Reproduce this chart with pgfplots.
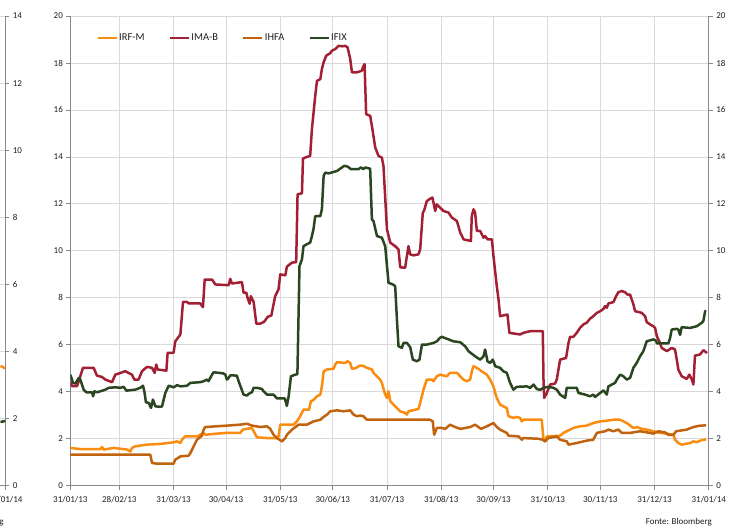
\documentclass[border=0pt]{standalone}
\usepackage{fontspec}
\setmainfont{Carlito}
\usepackage{pgfplots}
\pgfplotsset{compat=1.18}
\definecolor{irfm}{RGB}{250,140,15}
\definecolor{imab}{RGB}{163,32,52}
\definecolor{ihfa}{RGB}{192,98,14}
\definecolor{ifix}{RGB}{42,70,32}
\definecolor{gridgray}{RGB}{217,217,217}
\definecolor{axisgray}{RGB}{137,137,137}
\definecolor{txt}{RGB}{30,30,30}
\pgfplotsset{
  commonstyle/.style={
    scale only axis, height=470pt, ymin=0,
    axis line style={draw=axisgray, line width=0.8pt},
    tick style={draw=axisgray, line width=0.8pt},
    tick align=outside, major tick length=4pt,
    major grid style={draw=gridgray, line width=0.8pt},
    /pgf/number format/assume math mode=true,
    tick label style={font=\fontsize{9}{10}\selectfont, text=txt},
    xticklabel style={yshift=-3pt},
    every axis plot/.append style={line width=2.5pt, line join=round, mark=none},
  }
}
\begin{document}
\begin{tikzpicture}
\path (0pt,0pt) rectangle (748pt,531pt);

% partial chart cut at the left edge (only its last few days are visible)
\begin{axis}[commonstyle, at={(0pt,45pt)}, anchor=south west, width=5pt,
  xmin=362, xmax=365, ymax=14,
  axis x line*=bottom, axis y line*=right, grid=major,
  ytick={0,2,...,14}, xtick={365}, xticklabels={31/01/14},
  xticklabel style={overlay}]
\addplot[irfm] coordinates {(362,3.56) (363,3.55) (364,3.52) (365,3.5)};
\addplot[ifix] coordinates {(362,1.9) (363,1.91) (364,1.92) (365,1.93)};
\end{axis}
\node[overlay, anchor=east, font=\fontsize{9}{10}\selectfont, text=txt, inner sep=0pt] at (3.5pt,9pt) {Fonte: Bloomberg};

% main chart
\begin{axis}[commonstyle, at={(70pt,45pt)}, anchor=south west, width=638.75pt,
  xmin=0, xmax=365, ymax=20,
  axis x line*=bottom, axis y line*=left, grid=major,
  ytick={0,2,...,20},
  xtick={0,28,59,89,120,150,181,212,242,273,303,334,365},
  xticklabels={31/01/13,28/02/13,31/03/13,30/04/13,31/05/13,30/06/13,31/07/13,31/08/13,30/09/13,31/10/13,30/11/13,31/12/13,31/01/14},
  legend columns=4,
  legend image code/.code={\draw[#1] (0pt,0pt) -- (19pt,0pt);},
  legend style={at={(rel axis cs:0.0407,0.953)}, anchor=west, draw=none, fill=none,
    inner sep=0pt, font=\fontsize{10.5}{12}\selectfont, text=txt,
    nodes={inner xsep=1.2pt, inner ysep=1pt},
    /tikz/every even column/.append style={column sep=23pt}},
]
\addplot[irfm] coordinates {
(0,1.61) (5.7,1.56) (17.1,1.56) (18.1,1.65) (19,1.54) (24.7,1.61) (32.4,1.54) (34.3,1.46) (35.2,1.61) (37.1,1.68) (43.8,1.75) (51.4,1.78) (59,1.85) (61,1.89) (62.9,1.82) (63.8,1.96) (65.7,2.1) (72.4,2.1) (74.3,2.17) (76.2,2.25) (77.1,2.17) (83.8,2.22) (89.5,2.25) (97.1,2.25) (98.7,2.39) (103.8,2.46) (104.8,2.32) (106.7,2.06) (112.4,2.03) (118.1,2.03) (119,2.1) (120,2.6) (127.6,2.6) (129.5,2.74) (131.4,2.96) (133.3,3.24) (136.5,3.24) (137.5,3.6) (139,3.65) (141,3.81) (142.9,3.88) (143.8,4.23) (144.8,4.87) (146.7,4.95) (150.5,4.98) (151.4,5.16) (152.4,5.26) (157.1,5.23) (158.5,5.3) (160,5.23) (161,4.98) (162.9,5.0) (165.7,5.12) (167.6,5.1) (169.5,5.02) (172.4,4.95) (173.3,4.81) (175.3,4.66) (177.1,4.52) (178.1,4.38) (180,3.88) (181,3.74) (181.9,4.02) (182.9,3.6) (184.8,3.45) (186.7,3.31) (188.6,3.17) (191.4,3.1) (192.4,3.03) (193.3,3.17) (199,3.27) (200,3.53) (201.9,4.09) (203.8,4.52) (206.7,4.52) (207.6,4.45) (209.5,4.66) (211.4,4.73) (215.2,4.66) (217.1,4.81) (221,4.81) (222.9,4.66) (224.8,4.52) (226.7,4.45) (228.6,4.52) (229.5,4.87) (230.5,5.09) (233.3,4.98) (235.2,4.87) (238.1,4.73) (240,4.52) (241.9,4.23) (242.9,3.95) (243.8,3.74) (245.7,3.45) (249.5,3.31) (250.5,2.96) (253.3,2.89) (255.2,2.93) (257.1,2.89) (258.1,2.74) (259,2.81) (269.5,2.81) (270.5,1.96) (271.4,1.89) (272.4,2.1) (280,2.13) (281.9,2.25) (283.8,2.32) (287.6,2.46) (291.4,2.53) (295.2,2.56) (299,2.67) (302.9,2.74) (306.7,2.77) (310.5,2.81) (314.3,2.81) (316.2,2.74) (318.1,2.67) (320,2.56) (321.9,2.46) (323.8,2.5) (326.7,2.42) (329.5,2.39) (333.3,2.32) (337.1,2.25) (341,2.22) (344.8,2.17) (345.7,1.96) (347.6,1.82) (349.5,1.75) (352.4,1.79) (354.3,1.82) (356.2,1.89) (358.1,1.85) (360,1.92) (363.5,1.98)
};
\addlegendentry{IRF-M}
\addplot[imab] coordinates {
(0,4.4) (1,4.24) (3.8,4.24) (4.8,4.45) (7.2,5.02) (13.3,5.02) (15.2,4.69) (18.1,4.63) (20,4.52) (23.8,4.41) (25.7,4.73) (28.6,4.8) (31.4,4.88) (33.3,4.8) (35.2,4.73) (36.6,4.52) (39,4.52) (41,4.88) (43.8,5.06) (46.7,5.02) (48.2,4.8) (49.1,5.16) (49.9,4.95) (54.9,4.9) (55.6,5.66) (59,5.66) (60,6.15) (62.9,6.44) (64.4,7.83) (66.7,7.83) (67.6,7.76) (74.3,7.76) (75.8,7.6) (76.8,8.78) (81,8.78) (82.9,8.57) (90.5,8.54) (91.4,8.81) (92.4,8.61) (98.1,8.67) (99,8.22) (100.6,8.22) (101.3,8.0) (102.5,7.75) (103.2,8.07) (104.8,7.82) (106.3,6.9) (108.6,6.9) (110.9,6.99) (112.8,7.19) (114.9,7.25) (117.1,8.07) (119,8.36) (120,9.0) (122.9,8.96) (123.8,9.33) (126.7,9.5) (129.1,9.52) (129.9,12.41) (132.4,12.45) (133,13.93) (135.2,14.0) (137.1,14.04) (138.1,15.18) (140,16.6) (141,17.24) (142.9,17.31) (143.8,17.74) (144.8,18.03) (146.3,18.31) (148.6,18.42) (149.5,18.52) (151.4,18.59) (153.3,18.73) (155.3,18.71) (157.1,18.73) (158.5,18.66) (160,18.17) (161,17.6) (163.8,17.6) (166.7,17.67) (167.2,17.81) (168.2,17.95) (169.1,15.82) (171.4,15.75) (172.4,15.32) (174.3,14.4) (176.2,14.04) (178.1,13.97) (179,13.62) (181,10.92) (182.9,10.35) (185.7,10.2) (187.6,10.06) (188.6,9.3) (191.4,9.28) (192.4,9.78) (193.3,10.2) (194.3,9.85) (196.2,9.81) (199,9.85) (200,10.06) (201.5,11.63) (202.2,11.7) (203.8,12.12) (205.7,12.22) (207,12.27) (207.6,12.06) (208.6,11.7) (209.5,11.98) (211.4,11.84) (213.3,11.7) (216.2,11.63) (218.1,11.42) (221,11.27) (222.9,10.78) (224.8,10.49) (229,10.42) (229.5,11.48) (230.5,11.77) (231.4,11.63) (232.4,10.85) (234.3,10.85) (236.2,10.56) (237.1,10.63) (238.5,10.49) (241,10.49) (241.9,9.78) (243.8,8.5) (244.8,7.93) (245.7,7.22) (249.9,7.29) (251,6.51) (257.1,6.44) (259,6.51) (262.9,6.58) (270.1,6.58) (270.5,4.52) (270.9,3.74) (272.4,3.95) (274.3,4.31) (277.1,4.35) (278.1,4.52) (280,5.37) (283.4,5.44) (284.8,6.08) (285.7,6.34) (287.6,6.34) (289.5,6.51) (291.4,6.72) (293.3,6.87) (295.2,6.94) (297.1,7.11) (299,7.22) (301,7.36) (302.9,7.43) (304.8,7.53) (305.7,7.65) (306.7,7.58) (307.6,7.76) (310.5,7.82) (312,8.07) (313.3,8.24) (315.3,8.29) (317.1,8.24) (318.5,8.14) (320,8.14) (321.9,7.72) (322.9,7.43) (324.7,7.4) (326.7,7.36) (328.6,7.22) (329.5,6.97) (331.4,6.87) (333.3,6.79) (334.3,6.72) (335.3,6.37) (336.7,6.15) (338.1,5.87) (341,5.73) (343.8,5.87) (345.7,5.8) (346.7,5.37) (347.6,4.95) (349.5,4.66) (352.4,4.55) (353.9,4.73) (355.3,4.52) (356.2,4.31) (357.1,5.54) (360,5.59) (361.9,5.77) (363.3,5.69) (364,5.65)
};
\addlegendentry{IMA-B}
\addplot[ihfa] coordinates {
(0,1.32) (45.7,1.32) (46.7,0.97) (49.5,0.94) (59,0.94) (60,1.11) (62.9,1.25) (67.6,1.28) (68.6,1.39) (70.5,1.68) (72.4,1.96) (75.2,2.13) (76.2,2.39) (77.1,2.5) (89.5,2.56) (97.1,2.6) (101,2.64) (103.8,2.56) (108.6,2.5) (112.4,2.53) (114.3,2.42) (116.2,2.17) (118.1,2.03) (121,1.89) (122.9,2.03) (123.8,2.17) (126.7,2.39) (130.5,2.6) (135.2,2.6) (139,2.74) (142.9,2.81) (144.8,2.93) (146.7,3.03) (148.6,3.17) (152.4,3.21) (156.2,3.17) (160,3.21) (161.9,3.03) (163.8,2.96) (165.7,2.99) (167.6,2.96) (169.5,2.81) (205.7,2.81) (207.2,2.74) (208,2.17) (209.5,2.46) (212.4,2.46) (214.3,2.42) (217.1,2.6) (220,2.5) (222.9,2.42) (228.6,2.5) (231.4,2.6) (233.3,2.5) (234.7,2.42) (238.1,2.53) (241.9,2.67) (243.8,2.5) (245.7,2.39) (249.5,2.25) (250.5,2.13) (256.2,2.1) (258.1,1.96) (259,2.03) (267.6,2.0) (270.1,1.96) (271.4,1.89) (273.3,2.03) (278.1,2.1) (280,1.96) (283.8,1.89) (284.8,1.75) (289.5,1.82) (295.2,1.92) (299,1.96) (301,2.25) (305.7,2.32) (307.6,2.39) (310.5,2.32) (313.3,2.39) (315.2,2.25) (320,2.25) (325.7,2.32) (331.4,2.25) (333.3,2.22) (336.2,2.32) (340,2.27) (341.9,2.17) (344.8,2.17) (346.3,2.32) (352.4,2.39) (356.2,2.5) (360,2.56) (363.5,2.57)
};
\addlegendentry{IHFA}
\addplot[ifix] coordinates {
(0,4.73) (1.5,4.38) (2.9,4.35) (4.8,4.59) (5.7,4.52) (7.6,4.09) (9.1,3.98) (12.4,3.98) (13,3.81) (13.7,4.02) (15.2,3.98) (17.1,4.02) (20,4.09) (21.9,4.17) (25.7,4.19) (28.6,4.17) (30.5,4.21) (32,4.05) (37.1,4.09) (40,4.17) (41.5,4.26) (42.3,4.02) (43.2,3.55) (44.8,3.53) (46.1,3.31) (47.2,3.67) (48.6,3.38) (51.4,3.36) (52.4,3.38) (54.3,3.95) (56.2,4.26) (59,4.19) (61,4.28) (63.2,4.23) (66.7,4.26) (68.6,4.38) (74.3,4.41) (76.2,4.45) (78.1,4.52) (79,4.45) (81,4.73) (81.9,4.83) (85.7,4.8) (87.6,4.78) (88.6,4.73) (89.5,4.52) (90.5,4.59) (91.4,4.7) (95.2,4.69) (96.2,4.45) (99,3.88) (101,3.84) (101.9,3.91) (103.8,3.98) (104.8,4.17) (106.7,4.17) (109.5,4.12) (110.5,4.02) (112.4,3.88) (116.2,3.88) (118.1,3.72) (122.6,3.72) (123.8,3.4) (124.8,3.81) (126.1,4.66) (128.6,4.73) (129.8,4.75) (131,9.35) (132.4,9.64) (133.3,10.2) (135.2,10.28) (137.1,10.35) (138.1,10.63) (139,10.92) (140,11.48) (142.9,11.48) (143.8,11.77) (144.8,13.19) (145.7,13.33) (147.6,13.3) (150.5,13.36) (152.4,13.4) (154.3,13.5) (156.6,13.62) (158.5,13.59) (160.4,13.48) (164.8,13.48) (166.1,13.55) (167.6,13.48) (168.6,13.55) (171.4,13.5) (172.4,11.34) (173.3,11.27) (175.3,10.63) (178.1,10.56) (180,10.2) (181.9,8.64) (184.4,8.57) (185.7,8.5) (186.7,7.08) (187.6,5.94) (189.5,5.87) (190.5,6.08) (192.4,6.08) (194.3,5.9) (195.8,5.37) (198.1,5.3) (199.6,5.37) (201,6.01) (203.8,6.01) (207.6,6.08) (209.5,6.15) (211.4,6.3) (212.4,6.34) (215.2,6.26) (219,6.15) (222.9,6.11) (225.7,5.94) (227.6,5.73) (231.4,5.51) (234.3,5.37) (236.2,5.51) (237.1,5.8) (238.5,5.3) (240,5.23) (241.5,5.37) (242.9,5.09) (245.7,5.02) (247.6,4.87) (249.5,4.81) (251.4,4.38) (253.3,4.09) (255.2,4.21) (261,4.23) (262.9,4.17) (264.8,4.31) (266.7,4.12) (268.6,4.08) (270.5,4.17) (273.3,4.21) (276.2,4.17) (278.1,4.09) (280,3.88) (282.9,3.74) (283.8,4.17) (289.5,4.17) (290.5,3.95) (294.3,3.88) (297.1,3.81) (299,3.88) (300,3.78) (302.9,3.95) (304.8,4.06) (306.7,3.88) (307.6,4.23) (311.4,4.38) (312.4,4.52) (314.3,4.73) (316.2,4.66) (318.1,4.52) (320,4.59) (321.9,5.02) (323.8,5.23) (325.7,5.51) (327.6,5.73) (329.5,6.15) (333.3,6.23) (334.9,6.18) (335.3,6.06) (341.9,6.06) (342.9,6.3) (343.8,6.65) (346.7,6.68) (347.6,6.65) (348.6,6.42) (349.5,6.75) (354.3,6.72) (358.1,6.79) (361,6.94) (361.9,7.01) (362.9,7.43) (363.5,7.45)
};
\addlegendentry{IFIX}
\end{axis}

% right-hand axis
\begin{axis}[commonstyle, at={(70pt,45pt)}, anchor=south west, width=638.75pt,
  xmin=0, xmax=365, ymax=20,
  axis x line=none, axis y line*=right, ytick={0,2,...,20}]
\end{axis}
\node[anchor=east, font=\fontsize{9}{10}\selectfont, text=txt, inner sep=0pt] at (712pt,9pt) {Fonte: Bloomberg};
\end{tikzpicture}
\end{document}
